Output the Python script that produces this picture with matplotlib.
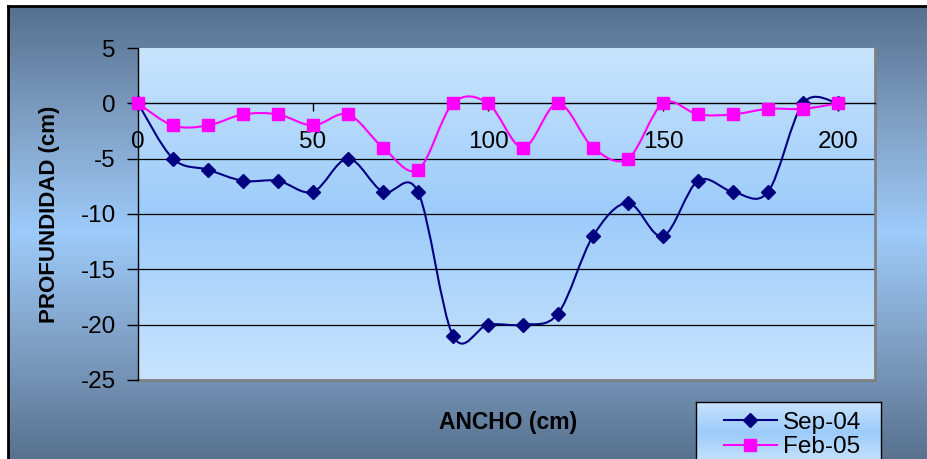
import numpy as np
import matplotlib
matplotlib.use("Agg")
import matplotlib.pyplot as plt
from matplotlib.path import Path
from matplotlib.patches import PathPatch
from matplotlib.lines import Line2D
from matplotlib.colors import LinearSegmentedColormap

plt.rcParams['font.family'] = ['Liberation Sans', 'DejaVu Sans']
plt.rcParams['axes.unicode_minus'] = False

# ancho del cauce (cm) y profundidad medida en cada campaña (cm)
ancho = [0, 10, 20, 30, 40, 50, 60, 70, 80, 90, 100,
         110, 120, 130, 140, 150, 160, 170, 180, 190, 200]
sep_04 = [0, -5, -6, -7, -7, -8, -5, -8, -8, -21, -20,
          -20, -19, -12, -9, -12, -7, -8, -8, 0, 0]
feb_05 = [0, -2, -2, -1, -1, -2, -1, -4, -6, 0, 0,
          -4, 0, -4, -5, 0, -1, -1, -0.5, -0.5, 0]

x_ticks = [0, 50, 100, 150, 200]
y_ticks = [5, 0, -5, -10, -15, -20, -25]

W, H = 928, 459


def smooth_path(x, y):
    # curva suavizada tipo Catmull-Rom con tramos Bezier cubicos
    pts = np.column_stack([x, y]).astype(float)
    n = len(pts)
    verts = [pts[0]]
    codes = [Path.MOVETO]
    for i in range(n - 1):
        p0 = pts[i - 1] if i > 0 else pts[i]
        p1 = pts[i]
        p2 = pts[i + 1]
        p3 = pts[i + 2] if i + 2 < n else pts[i + 1]
        verts += [p1 + (p2 - p0) / 6, p2 - (p3 - p1) / 6, p2]
        codes += [Path.CURVE4] * 3
    return Path(verts, codes)


def gradient(ax, colors):
    cmap = LinearSegmentedColormap.from_list("g", colors)
    grad = np.linspace(0, 1, 256).reshape(-1, 1)
    ax.imshow(grad, cmap=cmap, aspect='auto', extent=(0, 1, 0, 1),
              transform=ax.transAxes, origin='upper', zorder=0)


fig = plt.figure(figsize=(W / 100, H / 100), dpi=100)
fig.patch.set_facecolor('white')

# fondo del grafico
bg = fig.add_axes([8 / W, 0, 1 - 8 / W, (H - 6) / H], zorder=-2)
gradient(bg, ['#56708e', '#7f9fc4', '#9dcbfa', '#7f9fc4', '#58728f'])
bg.set_xticks([])
bg.set_yticks([])
for side in ['right', 'bottom']:
    bg.spines[side].set_visible(False)
for side in ['left', 'top']:
    bg.spines[side].set_linewidth(2)
    bg.spines[side].set_color('black')

# area de trazado
ax = fig.add_axes([138 / W, 1 - 380 / H, (875 - 138) / W, (380 - 48) / H])
gradient(ax, ['#c8e4fd', '#9ccbfa', '#c8e4fd'])
ax.set_xlim(0, 737 / 3.5)
ax.set_ylim(-25, 5)

for yv in y_ticks[2:-1]:
    ax.axhline(yv, color='black', lw=0.9, zorder=1)
ax.axhline(-25, color='#808080', lw=2, zorder=1, clip_on=False)

ax.spines['top'].set_visible(False)
ax.spines['right'].set_color('#808080')
ax.spines['right'].set_linewidth(2)
ax.spines['left'].set_color('black')
ax.spines['left'].set_linewidth(1)
ax.spines['bottom'].set_position(('data', 0))
ax.spines['bottom'].set_linewidth(1)

ax.set_xticks(x_ticks)
ax.set_yticks(y_ticks)
ax.tick_params(axis='x', direction='out', length=6, width=1, pad=14, labelsize=17.5)
ax.tick_params(axis='y', direction='out', length=8, width=1, pad=8, labelsize=17.5)

series = [(sep_04, '#000080', 'D', 7.5, 'Sep-04'),
          (feb_05, '#ff00ff', 's', 8, 'Feb-05')]
handles = []
for z, (vals, color, mk, ms, name) in enumerate(series):
    ax.add_patch(PathPatch(smooth_path(ancho, vals), facecolor='none',
                           edgecolor=color, lw=1.5, zorder=3 + 2 * z))
    ax.plot(ancho, vals, linestyle='none', marker=mk, ms=ms, color=color,
            mec=color, zorder=4 + 2 * z, clip_on=False)
    handles.append(Line2D([], [], color=color, lw=1.5, marker=mk, ms=ms,
                          mec=color))

fig.text(50 / W, 1 - 214 / H, 'PROFUNDIDAD (cm)', rotation=90,
         ha='center', va='center', fontsize=16, fontweight='bold')
fig.text(508 / W, 1 - 422 / H, 'ANCHO (cm)', ha='center', va='center',
         fontsize=16.5, fontweight='bold')

# leyenda
lg = fig.add_axes([696 / W, (H - 463) / H, 185 / W, 61 / H], zorder=2)
gradient(lg, ['#c8e4fd', '#9ccbfa', '#c8e4fd'])
lg.set_xticks([])
lg.set_yticks([])
for s in lg.spines.values():
    s.set_color('black')
    s.set_linewidth(1)
lg.legend(handles, ['Sep-04', 'Feb-05'], loc='upper left',
          bbox_to_anchor=(0.15, 0.84), frameon=False, fontsize=17.5,
          handlelength=2.2, handletextpad=0.25, labelspacing=0.1,
          borderpad=0, borderaxespad=0)

fig.savefig('out.png', dpi=100)
